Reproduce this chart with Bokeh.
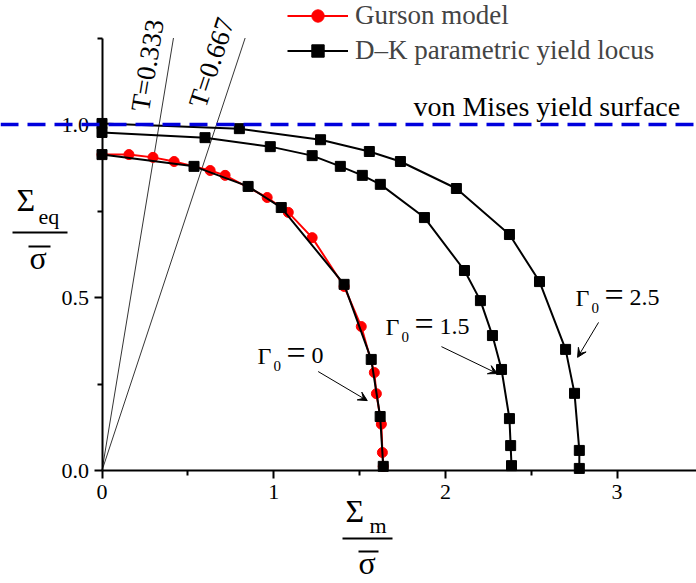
import math
from bokeh.plotting import figure
from bokeh.models import (Range1d, FixedTicker, Label, Arrow, VeeHead, Legend,
                          LegendItem, ColumnDataSource, Span, PrintfTickFormatter)
from bokeh.core.properties import value
from bokeh.embed import file_html
from bokeh.resources import INLINE

FONT = "Liberation Serif"

# ---------------- data ----------------
gurson_x = [0.0, 0.157, 0.297, 0.42, 0.63, 0.717, 0.962, 1.085, 1.224, 1.41,
            1.51, 1.586, 1.598, 1.627, 1.633, 1.638]
gurson_y = [0.913, 0.913, 0.905, 0.893, 0.867, 0.853, 0.789, 0.746, 0.673, 0.532,
            0.416, 0.283, 0.222, 0.134, 0.052, 0.012]

dk0_x = [0.0, 0.536, 0.851, 1.044, 1.41, 1.568, 1.62, 1.638]
dk0_y = [0.913, 0.879, 0.821, 0.760, 0.538, 0.321, 0.156, 0.012]

dk15_x = [0.0, 0.60, 0.98, 1.224, 1.388, 1.516, 1.621, 1.878, 2.111, 2.204,
          2.274, 2.327, 2.373, 2.38, 2.385]
dk15_y = [0.977, 0.962, 0.936, 0.910, 0.879, 0.853, 0.827, 0.731, 0.578, 0.491,
          0.390, 0.292, 0.150, 0.072, 0.014]

dk25_x = [0.0, 0.80, 1.273, 1.557, 1.738, 2.064, 2.373, 2.548, 2.70, 2.752, 2.78, 2.78]
dk25_y = [1.003, 0.988, 0.956, 0.922, 0.893, 0.815, 0.682, 0.546, 0.350, 0.223, 0.058, 0.006]

von_mises_level = 1.0
triax_values = [0.333, 0.667]
triax_labels = ["T=0.333", "T=0.667"]
triax_top = 1.25

gamma_values = ["0", "1.5", "2.5"]
gamma_label_x = [0.906, 1.651, 2.758]
gamma_label_y = [0.331, 0.415, 0.499]
arrow_x0 = [1.259, 1.977, 2.892]
arrow_y0 = [0.286, 0.358, 0.428]
arrow_x1 = [1.545, 2.303, 2.770]
arrow_y1 = [0.202, 0.280, 0.327]

x_ticks = [0, 1, 2, 3]
x_minor = [0.5, 1.5, 2.5]
y_ticks = [0.0, 0.5, 1.0]
y_minor = [0.25, 0.75, 1.25]

# ---------------- figure ----------------
W, H = 696, 583
X0_PX, Y0_PX = 101.5, 470.0          # where the data origin sits on the page
PX_X, PX_Y = 171.7, 346.0            # pixels per data unit
x_start, x_end = -X0_PX / PX_X, (W - X0_PX) / PX_X
y_start, y_end = -(H - Y0_PX) / PX_Y, Y0_PX / PX_Y

p = figure(width=W, height=H, output_backend="svg", toolbar_location=None,
           x_range=Range1d(x_start, x_end), y_range=Range1d(y_start, y_end),
           min_border_left=0, min_border_right=0, min_border_top=0,
           min_border_bottom=0)
p.grid.visible = False
p.outline_line_color = None
p.background_fill_color = "white"
p.border_fill_color = "white"

p.xaxis.ticker = FixedTicker(ticks=x_ticks, minor_ticks=x_minor)
p.yaxis.ticker = FixedTicker(ticks=y_ticks, minor_ticks=y_minor)
p.xaxis.formatter = PrintfTickFormatter(format="%d")
p.yaxis.formatter = PrintfTickFormatter(format="%.1f")
p.yaxis.bounds = (0, 1.25)
p.xaxis.bounds = (0, x_end)
p.xaxis.fixed_location = 0
p.yaxis.fixed_location = 0
for ax in (p.xaxis[0], p.yaxis[0]):
    ax.axis_line_width = 2
    ax.axis_line_color = "black"
    ax.major_tick_line_width = 2
    ax.minor_tick_line_width = 2
    ax.major_tick_line_color = "black"
    ax.minor_tick_line_color = "black"
    ax.major_tick_out = 8
    ax.major_tick_in = 0
    ax.minor_tick_out = 5
    ax.minor_tick_in = 0
    ax.major_label_text_font = FONT
    ax.major_label_text_font_size = "22px"
    ax.major_label_text_color = "black"
p.xaxis.major_label_standoff = 6
p.yaxis.major_label_standoff = 5

# T lines
for t in triax_values:
    p.line([0, t * triax_top], [0, triax_top], line_color="black", line_width=0.8)

t_angles = [math.degrees(math.atan2(PX_Y, PX_X * t)) for t in triax_values]
t_lab_x = [0.265, 0.638]
t_lab_y = [1.171, 1.179]
p.text(x=t_lab_x, y=t_lab_y, text=triax_labels, angle=t_angles, angle_units="deg",
       text_font=value(FONT), text_font_size="27px", text_align="center",
       text_baseline="middle", text_color="black")

# von Mises
p.add_layout(Span(location=von_mises_level, dimension="width", line_color="#0000dd",
                  line_width=3.5, line_dash="18 9"))
p.add_layout(Label(x=1.814, y=1.0506, text="von Mises yield surface", text_font=FONT,
                   text_font_size="28px", text_baseline="middle", text_color="black"))

# curves
g_line = p.line(gurson_x, gurson_y, line_color="red", line_width=2)
g_pts = p.scatter(gurson_x, gurson_y, marker="circle", size=10, fill_color="red",
                  line_color="red")
dk_renderers = []
for xs, ys in ((dk0_x, dk0_y), (dk15_x, dk15_y), (dk25_x, dk25_y)):
    l = p.line(xs, ys, line_color="black", line_width=2)
    s = p.scatter(xs, ys, marker="square", size=10, fill_color="black", line_color="black")
    dk_renderers.append((l, s))

# gamma labels (y is the vertical middle of the capitals)
common = dict(text_font=value(FONT), text_baseline="middle", text_color="black")
p.text(x=gamma_label_x, y=gamma_label_y, text=["Γ"] * 3, text_font_size="24px", **common)
p.text(x=gamma_label_x, y=gamma_label_y, text=["0"] * 3, x_offset=16, y_offset=10,
       text_font_size="15px", **common)
p.text(x=gamma_label_x, y=gamma_label_y, text=["="] * 3, x_offset=29, y_offset=-3,
       text_font_size="34px", **common)
p.text(x=gamma_label_x, y=gamma_label_y, text=gamma_values, x_offset=54,
       text_font_size="24px", **common)

arrows = ColumnDataSource(dict(x0=arrow_x0, y0=arrow_y0, x1=arrow_x1, y1=arrow_y1))
p.add_layout(Arrow(x_start="x0", y_start="y0", x_end="x1", y_end="y1", source=arrows,
                   line_color="black", line_width=1,
                   end=VeeHead(size=9, fill_color="black", line_color="black", line_width=1)))

# legend (screen units: from the lower-left corner of the canvas, y up)
legend = Legend(items=[LegendItem(label="Gurson model", renderers=[g_line, g_pts]),
                       LegendItem(label="D\u2013K parametric yield locus",
                                  renderers=list(dk_renderers[0]))],
                location=(287, H - 66), margin=0, padding=0, spacing=4,
                glyph_width=61, glyph_height=31, label_height=31, label_standoff=7,
                label_text_font=FONT, label_text_font_size="27px",
                border_line_color=None, background_fill_alpha=0)
p.add_layout(legend)


def slab(cx, baseline, text, size):
    mid = baseline - 0.3375 * size
    p.add_layout(Label(x=cx, y=H - mid, x_units="screen", y_units="screen",
                       text=text, text_font=FONT, text_font_size=f"{size}px",
                       text_baseline="middle", text_align="left", text_color="black"))


def sbar(cx0, cx1, cy):
    p.add_layout(Arrow(x_start=cx0, y_start=H - cy, x_end=cx1, y_end=H - cy,
                       start_units="screen", end_units="screen", end=None,
                       line_color="black", line_width=2))


# y title
slab(16, 210, "Σ", 32)
slab(38, 223, "eq", 22)
sbar(12, 67, 232)
sbar(28, 50, 246)
slab(29, 268, "σ", 32)
# x title
slab(345, 521, "Σ", 32)
slab(369, 532, "m", 22)
sbar(342, 392, 538)
sbar(358, 378, 551)
slab(358, 573, "σ", 32)

open("out.html", "w").write(file_html(p, INLINE))
